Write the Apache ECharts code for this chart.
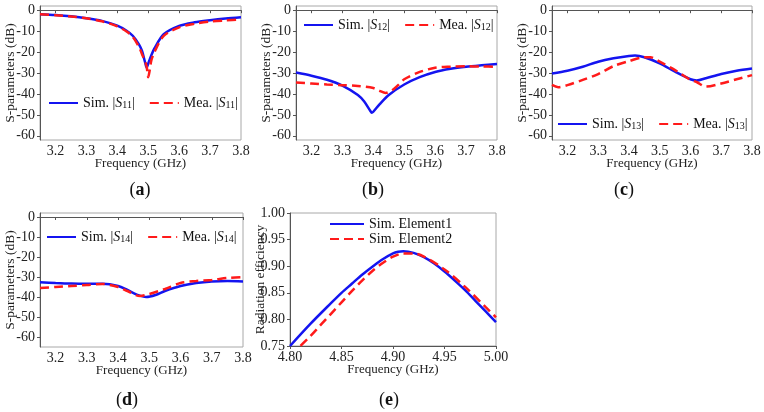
<!DOCTYPE html>
<html>
<head>
    <meta charset="utf-8">
    <title>S-parameters</title>
    <script src="https://cdn.jsdelivr.net/npm/echarts@6/dist/echarts.min.js"></script>
    <style>
        html, body { margin: 0; padding: 0; background: #fff; }
        #main { width: 764px; height: 412px; }
    </style>
</head>
<body>
<div id="main"></div>
<script type="text/javascript">
    // ---- values ----
    var dbTicks = [0, -10, -20, -30, -40, -50, -60];
    var freqTicks = [3.2, 3.3, 3.4, 3.5, 3.6, 3.7, 3.8];

    // (a) |S11|
    var simS11 = [[3.15, -1.9], [3.2, -2.3], [3.25, -2.9], [3.3, -3.8], [3.35, -5.1], [3.4, -7.4], [3.43, -9.8],
        [3.45, -12.2], [3.47, -16.3], [3.48, -19.5], [3.49, -25], [3.495, -27.5], [3.5, -25.5], [3.51, -21.5],
        [3.52, -18.3], [3.55, -11.5], [3.6, -7.5], [3.65, -5.8], [3.7, -4.8], [3.75, -4], [3.8, -3.4]];
    var meaS11 = [[3.15, -1.9], [3.2, -2.4], [3.25, -3], [3.3, -3.9], [3.35, -5.3], [3.4, -7.7], [3.43, -10.2],
        [3.45, -12.8], [3.47, -17.5], [3.48, -21], [3.49, -24.5], [3.495, -27], [3.5, -32], [3.505, -28.5],
        [3.51, -24], [3.52, -20], [3.55, -12.3], [3.6, -8.2], [3.65, -6.5], [3.7, -5.4], [3.75, -4.9], [3.8, -4.5]];

    // (b) |S12|
    var simS12 = [[3.15, -29.8], [3.2, -31.3], [3.25, -33.2], [3.3, -36], [3.35, -40.5], [3.37, -43.5], [3.39, -48],
        [3.395, -49], [3.4, -48.5], [3.42, -45], [3.45, -40.5], [3.5, -35.5], [3.55, -32], [3.6, -29.5],
        [3.65, -28], [3.7, -27], [3.75, -26.3], [3.8, -25.7]];
    var meaS12 = [[3.15, -34.5], [3.2, -35], [3.25, -35.5], [3.3, -35.8], [3.35, -36.2], [3.4, -37.2], [3.42, -38.5],
        [3.44, -39.5], [3.46, -38.3], [3.48, -35.8], [3.5, -33], [3.55, -29.5], [3.6, -27.5], [3.65, -27],
        [3.7, -26.8], [3.75, -26.9], [3.8, -27]];

    // (c) |S13|
    var simS13 = [[3.15, -30.2], [3.2, -28.9], [3.25, -27], [3.3, -24.6], [3.35, -23], [3.4, -21.9], [3.42, -21.7],
        [3.45, -22.5], [3.5, -25.4], [3.55, -29.4], [3.6, -33], [3.62, -33.6], [3.65, -32.5], [3.7, -30.5],
        [3.75, -28.9], [3.8, -27.8]];
    var meaS13 = [[3.15, -35.7], [3.17, -36.8], [3.2, -35.8], [3.25, -33.3], [3.3, -30.5], [3.35, -26.7], [3.4, -24.3],
        [3.45, -22.5], [3.47, -22.5], [3.5, -24.6], [3.55, -28.6], [3.6, -33.3], [3.62, -34.3], [3.65, -36.5],
        [3.7, -35], [3.75, -33], [3.8, -31]];

    // (d) |S14|
    var simS14 = [[3.15, -32.6], [3.2, -33], [3.25, -33.3], [3.3, -33.4], [3.35, -33.4], [3.4, -34.5], [3.43, -36.5],
        [3.46, -38.8], [3.49, -40], [3.52, -39], [3.55, -37], [3.6, -34.5], [3.65, -33], [3.7, -32.2],
        [3.75, -32], [3.8, -32.2]];
    var meaS14 = [[3.15, -35.5], [3.2, -35], [3.25, -34.5], [3.3, -34], [3.35, -33.5], [3.4, -35], [3.43, -37],
        [3.47, -39.5], [3.5, -38.5], [3.55, -36], [3.6, -33], [3.65, -32], [3.7, -31.5], [3.75, -30.5], [3.8, -30]];

    // (e) radiation efficiency
    var simElement1 = [[4.8, 0.75], [4.82, 0.792], [4.84, 0.831], [4.85, 0.85], [4.86, 0.867], [4.87, 0.884],
        [4.88, 0.899], [4.89, 0.913], [4.9, 0.924], [4.905, 0.927], [4.91, 0.928], [4.92, 0.925], [4.93, 0.917],
        [4.94, 0.905], [4.95, 0.89], [4.96, 0.873], [4.97, 0.855], [4.98, 0.835], [4.99, 0.815], [5.0, 0.795]];
    var simElement2 = [[4.8, 0.733], [4.81, 0.75], [4.82, 0.769], [4.83, 0.79], [4.84, 0.811], [4.85, 0.832],
        [4.86, 0.853], [4.87, 0.873], [4.88, 0.891], [4.89, 0.906], [4.9, 0.918], [4.91, 0.924], [4.92, 0.924],
        [4.93, 0.918], [4.95, 0.894], [4.97, 0.861], [4.99, 0.823], [5.0, 0.804]];

    var FONT = '"Liberation Serif", "Times New Roman", serif';
    var BLUE = '#1414f0';
    var RED = '#ff1a1a';

    // 图例文字：S 斜体，下标缩小
    var legendRich = {
        n: { fontFamily: FONT, fontSize: 14, color: '#111' },
        i: { fontFamily: FONT, fontSize: 14, fontStyle: 'italic', color: '#111' },
        b: { fontFamily: FONT, fontSize: 10, color: '#111', verticalAlign: 'bottom', lineHeight: 9 }
    };
    function legendFmt(name) {
        var parts = name.split(' ');
        if (parts[1].charAt(0) !== 'S') {
            return '{n|' + name + '}';
        }
        return '{n|' + parts[0] + ' |}{i|S}{b|' + parts[1].substring(1) + '}{n||}';
    }

    var grids = [], xAxes = [], yAxes = [], series = [], legends = [];

    function addSParamPanel(rect, yMin, names, simData, meaData, legendPos) {
        var k = grids.length;
        grids.push({ left: rect[0], top: rect[1], width: rect[2], height: rect[3], show: true,
            borderColor: '#a8a8a8', borderWidth: 1, backgroundColor: 'transparent' });
        xAxes.push({
            gridIndex: k, type: 'value', min: 3.15, max: 3.8,
            name: 'Frequency (GHz)', nameLocation: 'middle', nameGap: 17, nameMoveOverlap: false,
            nameTextStyle: { fontFamily: FONT, fontSize: 13, color: '#222' },
            axisLine: { lineStyle: { color: '#555', width: 1 } },
            axisTick: { customValues: freqTicks, length: 3, lineStyle: { color: '#555' } },
            axisLabel: { customValues: freqTicks, margin: 4, fontFamily: FONT, fontSize: 14, color: '#222',
                formatter: function (v) { return v.toFixed(1); } },
            splitLine: { show: false }
        });
        yAxes.push({
            gridIndex: k, type: 'value', min: yMin, max: 2,
            name: 'S-parameters (dB)', nameLocation: 'middle', nameGap: 23, nameMoveOverlap: false,
            nameTextStyle: { fontFamily: FONT, fontSize: 13.5, color: '#222' },
            axisLine: { show: true, lineStyle: { color: '#555', width: 1 } },
            axisTick: { show: true, customValues: dbTicks, length: 3, lineStyle: { color: '#555' } },
            axisLabel: { customValues: dbTicks, margin: 5, fontFamily: FONT, fontSize: 14, color: '#222' },
            splitLine: { show: false }
        });
        series.push({ name: names[0], type: 'line', xAxisIndex: k, yAxisIndex: k, data: simData,
            symbol: 'none', smooth: 0.3, lineStyle: { color: BLUE, width: 2.5 }, itemStyle: { color: BLUE } });
        series.push({ name: names[1], type: 'line', xAxisIndex: k, yAxisIndex: k, data: meaData,
            symbol: 'none', smooth: 0.3, lineStyle: { color: RED, width: 2.5, type: [9, 5] }, itemStyle: { color: RED } });
        legends.push({
            data: names, left: legendPos[0], top: legendPos[1], padding: 0,
            itemWidth: 29, itemHeight: 14, itemGap: 14,
            selectedMode: false, formatter: legendFmt, textStyle: { rich: legendRich },
            itemStyle: { opacity: 0 }
        });
    }

    addSParamPanel([40, 6, 201, 134], -62, ['Sim. S11', 'Mea. S11'], simS11, meaS11, [48, 96]);
    addSParamPanel([296, 6, 201, 134], -62, ['Sim. S12', 'Mea. S12'], simS12, meaS12, [303, 18]);
    addSParamPanel([552, 6, 200, 134], -62, ['Sim. S13', 'Mea. S13'], simS13, meaS13, [557, 117]);
    addSParamPanel([40, 213, 203, 134], -65, ['Sim. S14', 'Mea. S14'], simS14, meaS14, [46, 230]);

    // (e) 辐射效率
    grids.push({ left: 290, top: 213, width: 206, height: 133, show: true, borderColor: '#a8a8a8', borderWidth: 1 });
    xAxes.push({
        gridIndex: 4, type: 'value', min: 4.8, max: 5.0, interval: 0.05,
        name: 'Frequency (GHz)', nameLocation: 'middle', nameGap: 17, nameMoveOverlap: false,
        nameTextStyle: { fontFamily: FONT, fontSize: 13, color: '#222' },
        axisLine: { lineStyle: { color: '#555' } },
        axisTick: { length: 3, lineStyle: { color: '#555' } },
        axisLabel: { margin: 4, fontFamily: FONT, fontSize: 14, color: '#222',
            formatter: function (v) { return v.toFixed(2); } },
        splitLine: { show: false }
    });
    yAxes.push({
        gridIndex: 4, type: 'value', min: 0.75, max: 1.0, interval: 0.05,
        name: 'Radiation efficiency', nameLocation: 'middle', nameGap: 23, nameMoveOverlap: false,
        nameTextStyle: { fontFamily: FONT, fontSize: 13.5, color: '#222' },
        axisLine: { show: true, lineStyle: { color: '#555' } },
        axisTick: { show: true, length: 3, lineStyle: { color: '#555' } },
        axisLabel: { margin: 5, fontFamily: FONT, fontSize: 14, color: '#222',
            formatter: function (v) { return v.toFixed(2); } },
        splitLine: { show: false }
    });
    series.push({ name: 'Sim. Element1', type: 'line', xAxisIndex: 4, yAxisIndex: 4, data: simElement1,
        symbol: 'none', smooth: 0.3, lineStyle: { color: BLUE, width: 2.5 }, itemStyle: { color: BLUE } });
    series.push({ name: 'Sim. Element2', type: 'line', xAxisIndex: 4, yAxisIndex: 4, data: simElement2,
        symbol: 'none', smooth: 0.3, lineStyle: { color: RED, width: 2.5, type: [9, 5] }, itemStyle: { color: RED } });
    legends.push({
        data: ['Sim. Element1', 'Sim. Element2'], orient: 'vertical', left: 329, top: 217, padding: 0,
        itemWidth: 34, itemHeight: 13, itemGap: 1, selectedMode: false, formatter: legendFmt,
        textStyle: { rich: legendRich }, itemStyle: { opacity: 0 }
    });

    // 子图编号
    var panelLabels = [['a', 140, 190], ['b', 373, 190], ['c', 624, 190], ['d', 127, 400], ['e', 389, 400]];
    var graphics = panelLabels.map(function (p) {
        return {
            type: 'text', x: p[1], y: p[2],
            style: {
                text: '({b|' + p[0] + '})', align: 'center', verticalAlign: 'middle',
                fontFamily: FONT, fontSize: 18, fill: '#111',
                rich: { b: { fontFamily: FONT, fontSize: 18, fontWeight: 'bold', fill: '#111' } }
            }
        };
    });

    var chart = echarts.init(document.getElementById('main'));
    chart.setOption({
        animation: false,
        backgroundColor: '#fff',
        grid: grids,
        xAxis: xAxes,
        yAxis: yAxes,
        legend: legends,
        series: series,
        graphic: graphics
    });
</script>
</body>
</html>
